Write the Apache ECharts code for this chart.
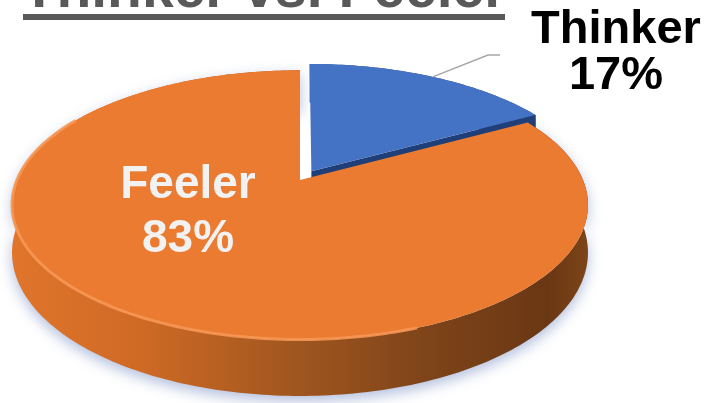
<!DOCTYPE html>
<html>
<head>
<meta charset="utf-8">
<title>Thinker vs. Feeler</title>
<script src="https://cdn.jsdelivr.net/npm/echarts@6/dist/echarts.min.js"></script>
<style>
  html, body { margin: 0; padding: 0; background: #fff; }
  #chart { width: 709px; height: 403px; }
</style>
</head>
<body>
<div id="chart"></div>
<script>
const chartTitle = "Thinker vs. Feeler"
const categories = ["Thinker", "Feeler"]
const shares = [17, 83]

// tilted disc: where the centre lands and how the rim is squashed
const CX = 300, CY = 180
const RX = 283, RY = 130
const PERSP = 0.185
const DEPTH = 46
const EXPLODE = 0.08
const topColors = ["#4472c4", "#eb7b30"]
const FONT = '"Liberation Sans", Arial, sans-serif'

// label anchors picked to sit where the original chart put them
const labelSpots = [[616, 53], [188, 212]]
const leaderElbow = [[488, 55], [500, 55]]

const total = shares.reduce((a, b) => a + b, 0)
const seriesData = shares.map((v, i) => [v, shares.slice(0, i).reduce((a, b) => a + b, 0)])

function project(u, v, down) {
  const s = 1 + PERSP * v
  return [CX + RX * u / s, CY + (-RY * v + down * DEPTH) / s]
}

function arc(a0, a1, du, dv, down) {
  const pts = []
  const steps = Math.max(2, Math.ceil(Math.abs(a1 - a0)))
  for (let i = 0; i <= steps; i++) {
    const a = (a0 + (a1 - a0) * i / steps) * Math.PI / 180
    pts.push(project(Math.sin(a) + du, Math.cos(a) + dv, down))
  }
  return pts
}

function renderSlice(params, api) {
  const i = params.dataIndex
  const share = api.value(0)
  const before = api.value(1)
  const a0 = before / total * 360
  const a1 = a0 + share / total * 360
  const mid = (a0 + a1) / 2 * Math.PI / 180
  const pull = i === 0 ? EXPLODE : 0
  const du = pull * Math.sin(mid)
  const dv = pull * Math.cos(mid)
  const children = []

  const blue = i === 0
  const wallFill = blue
    ? new echarts.graphic.LinearGradient(0, 0, 1, 0, [
        { offset: 0, color: "#2f5597" }, { offset: 1, color: "#1f3864" }])
    : new echarts.graphic.LinearGradient(0, 0, 1, 0, [
        { offset: 0, color: "#e0752b" },
        { offset: 0.22, color: "#cf6a25" },
        { offset: 0.48, color: "#a2571f" },
        { offset: 0.72, color: "#7e441a" },
        { offset: 0.93, color: "#6a3714" },
        { offset: 1, color: "#7c4418" }])

  children.push({
    type: "polygon",
    z2: 1,
    shape: { points: arc(a0, a1, du, dv, 0).concat(arc(a0, a1, du, dv, 1).reverse()) },
    style: blue ? { fill: wallFill } : {
      fill: wallFill,
      shadowBlur: 14,
      shadowOffsetY: 5,
      shadowColor: "rgba(100,125,185,0.5)"
    }
  })

  if (pull > 0) {
    const ea = a1 * Math.PI / 180
    children.push({
      type: "polygon",
      z2: 2,
      shape: { points: [
        project(du, dv, 0),
        project(Math.sin(ea) + du, Math.cos(ea) + dv, 0),
        project(Math.sin(ea) + du, Math.cos(ea) + dv, 1),
        project(du, dv, 1)
      ] },
      style: { fill: "#203f78" }
    })
  }

  children.push({
    type: "polygon",
    z2: 10,
    shape: { points: [project(du, dv, 0)].concat(arc(a0, a1, du, dv, 0)) },
    style: { fill: topColors[i] }
  })

  if (!blue) {
    children.push({
      type: "polyline",
      z2: 11,
      shape: { points: arc(Math.max(a0, 160), 300, du, dv, 0) },
      style: { stroke: "rgba(246,150,84,0.9)", lineWidth: 3, fill: null }
    })
  }

  const pct = Math.round(share / total * 100)
  const spot = labelSpots[i]
  children.push({
    type: "text",
    z2: 20,
    x: spot[0],
    y: spot[1],
    style: {
      text: categories[i] + "\n" + pct + "%",
      fill: blue ? "#000000" : "#f2f2f2",
      font: "bold " + (blue ? 47 : 46) + "px " + FONT,
      lineHeight: blue ? 46 : 54,
      align: "center",
      verticalAlign: "middle"
    }
  })

  if (blue) {
    children.push({
      type: "polyline",
      z2: 15,
      shape: { points: [project(Math.sin(mid) + du, Math.cos(mid) + dv, 0)].concat(leaderElbow) },
      style: { stroke: "#a6a6a6", lineWidth: 1.5, fill: null }
    })
  }

  return { type: "group", children }
}

const chart = echarts.init(document.getElementById("chart"), null, { renderer: "canvas" })
chart.setOption({
  backgroundColor: "#ffffff",
  animation: false,
  graphic: [
    {
      type: "text",
      x: 264,
      y: -9,
      style: {
        text: chartTitle,
        font: "bold 57px " + FONT,
        fill: "#595959",
        align: "center",
        verticalAlign: "middle"
      }
    },
    {
      type: "rect",
      shape: { x: 23, y: 14, width: 482, height: 6 },
      style: { fill: "#595959" }
    }
  ],
  series: [
    {
      type: "custom",
      coordinateSystem: "none",
      renderItem: renderSlice,
      data: seriesData
    }
  ]
})
window.addEventListener("resize", () => chart.resize())
</script>
</body>
</html>
